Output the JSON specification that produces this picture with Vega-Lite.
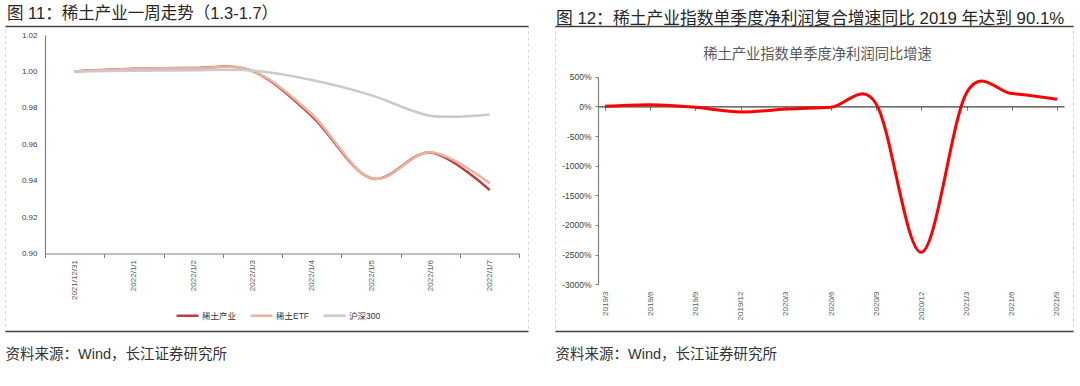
{
  "$schema": "https://vega.github.io/schema/vega-lite/v6.json",
  "padding": {"left": 0, "top": 5, "right": 0, "bottom": 0},
  "spacing": 25,
  "background": "white",
  "config": {
    "font": "Liberation Sans, Noto Sans CJK SC, sans-serif",
    "view": {"stroke": "#d4d4d4", "strokeDash": [3, 3], "strokeWidth": 1},
    "axis": {"grid": false, "labelFont": "Liberation Sans, Noto Sans CJK SC, sans-serif", "titleFont": "Liberation Sans, Noto Sans CJK SC, sans-serif"}
  },
  "hconcat": [
    {
      "width": 523,
      "height": 305,
      "title": {"text": "图 11：稀土产业一周走势（1.3-1.7）", "anchor": "start", "frame": "group", "fontSize": 16.5, "fontWeight": "normal", "color": "#262626", "offset": -9, "dx": 2, "baseline": "alphabetic"},
      "layer": [
        {
          "data": {"values": [
            {"d": "2021/12/31", "s": "稀土产业", "v": 1.0},
            {"d": "2022/1/1", "s": "稀土产业", "v": 1.0014},
            {"d": "2022/1/2", "s": "稀土产业", "v": 1.0019},
            {"d": "2022/1/3", "s": "稀土产业", "v": 1.0002},
            {"d": "2022/1/4", "s": "稀土产业", "v": 0.9755},
            {"d": "2022/1/5", "s": "稀土产业", "v": 0.9413},
            {"d": "2022/1/6", "s": "稀土产业", "v": 0.9554},
            {"d": "2022/1/7", "s": "稀土产业", "v": 0.9349},
            {"d": "2021/12/31", "s": "稀土ETF", "v": 1.0},
            {"d": "2022/1/1", "s": "稀土ETF", "v": 1.0013},
            {"d": "2022/1/2", "s": "稀土ETF", "v": 1.0018},
            {"d": "2022/1/3", "s": "稀土ETF", "v": 1.0003},
            {"d": "2022/1/4", "s": "稀土ETF", "v": 0.9765},
            {"d": "2022/1/5", "s": "稀土ETF", "v": 0.9413},
            {"d": "2022/1/6", "s": "稀土ETF", "v": 0.9556},
            {"d": "2022/1/7", "s": "稀土ETF", "v": 0.9386},
            {"d": "2021/12/31", "s": "沪深300", "v": 1.0},
            {"d": "2022/1/1", "s": "沪深300", "v": 1.0003},
            {"d": "2022/1/2", "s": "沪深300", "v": 1.0007},
            {"d": "2022/1/3", "s": "沪深300", "v": 1.0004},
            {"d": "2022/1/4", "s": "沪深300", "v": 0.9953},
            {"d": "2022/1/5", "s": "沪深300", "v": 0.987},
            {"d": "2022/1/6", "s": "沪深300", "v": 0.9757},
            {"d": "2022/1/7", "s": "沪深300", "v": 0.9764}
          ]},
          "mark": {"type": "line", "interpolate": "cardinal", "strokeWidth": 2.5},
          "encoding": {
            "x": {
              "field": "d", "type": "ordinal",
              "scale": {"type": "band", "domain": ["2021/12/31", "2022/1/1", "2022/1/2", "2022/1/3", "2022/1/4", "2022/1/5", "2022/1/6", "2022/1/7"], "range": [40, 514.3], "paddingInner": 0, "paddingOuter": 0},
              "axis": {"orient": "bottom", "offset": -77.5, "title": null, "tickBand": "extent", "tickSize": 4, "tickColor": "#808080", "domainColor": "#808080", "domainWidth": 1.2, "labelAngle": 270, "labelAlign": "right", "labelBaseline": "middle", "labelFontSize": 8, "labelColor": "#595959", "labelPadding": 2}
            },
            "y": {
              "field": "v", "type": "quantitative",
              "scale": {"domain": [0.9, 1.02], "range": [227.5, 9], "nice": false, "zero": false},
              "axis": {"orient": "left", "offset": -40, "title": null, "values": [0.9, 0.92, 0.94, 0.96, 0.98, 1.0, 1.02], "format": ".2f", "labelFontSize": 8, "labelColor": "#404040", "ticks": false, "labelPadding": 8, "domainColor": "#808080", "domainWidth": 1.2}
            },
            "color": {
              "field": "s", "type": "nominal",
              "scale": {"domain": ["稀土产业", "稀土ETF", "沪深300"], "range": ["#C23A3D", "#E7B49E", "#CACACA"]},
              "legend": {"title": null, "orient": "none", "legendX": 170, "legendY": 277, "direction": "horizontal", "symbolType": "stroke", "symbolSize": 480, "symbolStrokeWidth": 2.5, "labelFontSize": 8.5, "labelColor": "#333333", "columnPadding": 8, "labelOffset": 2}
            }
          }
        },
        {
          "data": {"values": [{}]},
          "mark": {"type": "text", "text": ""},
          "encoding": {
            "x": {"datum": 0, "type": "quantitative", "scale": {"domain": [0, 1], "nice": false, "zero": false}, "axis": {"orient": "top", "title": null, "labels": false, "ticks": false, "domainColor": "#404040", "domainWidth": 1.5}}
          }
        },
        {
          "data": {"values": [{}]},
          "mark": {"type": "text", "text": ""},
          "encoding": {
            "x": {"datum": 0, "type": "quantitative", "scale": {"domain": [0, 1], "nice": false, "zero": false}, "axis": {"orient": "bottom", "title": "资料来源：Wind，长江证券研究所", "titleAnchor": "start", "titleAlign": "left", "titleBaseline": "alphabetic", "titlePadding": 27.6, "titleFontSize": 14.5, "titleFontWeight": "normal", "titleColor": "#333333", "labels": false, "ticks": false, "domainColor": "#404040", "domainWidth": 1.5}}
          }
        }
      ],
      "resolve": {"scale": {"x": "independent"}, "axis": {"x": "independent"}}
    },
    {
      "width": 518,
      "height": 305,
      "title": {"text": "图 12：稀土产业指数单季度净利润复合增速同比 2019 年达到 90.1%", "anchor": "start", "frame": "group", "fontSize": 16.8, "fontWeight": "normal", "color": "#262626", "offset": -14.7, "dx": 1, "baseline": "alphabetic"},
      "layer": [
        {
          "data": {"name": "q"},
          "mark": {"type": "line", "interpolate": "cardinal", "strokeWidth": 3, "color": "#FF0000"},
          "encoding": {
            "x": {
              "field": "q", "type": "ordinal",
              "scale": {"type": "point", "domain": ["2019/3", "2019/6", "2019/9", "2019/12", "2020/3", "2020/6", "2020/9", "2020/12", "2021/3", "2021/6", "2021/9"], "range": [43, 509], "padding": 0.155},
              "axis": {"orient": "bottom", "offset": -224.6, "title": null, "labels": false, "tickSize": 4, "tickColor": "#808080", "domainColor": "#404040", "domainWidth": 1.2}
            },
            "y": {
              "field": "v", "type": "quantitative",
              "scale": {"domain": [-3000, 500], "range": [258.3, 50.7], "nice": false, "zero": false},
              "axis": {"orient": "left", "offset": -43, "title": null, "values": [500, 0, -500, -1000, -1500, -2000, -2500, -3000], "labelExpr": "datum.value + '%'", "labelFontSize": 8.5, "labelColor": "#404040", "tickSize": 3, "tickColor": "#808080", "labelPadding": 4, "domainColor": "#808080", "domainWidth": 1.2}
            }
          }
        },
        {
          "data": {"name": "q"},
          "mark": {"type": "text", "text": ""},
          "encoding": {
            "x": {
              "field": "q", "type": "ordinal",
              "scale": {"type": "point", "domain": ["2019/3", "2019/6", "2019/9", "2019/12", "2020/3", "2020/6", "2020/9", "2020/12", "2021/3", "2021/6", "2021/9"], "range": [43, 509], "padding": 0.155},
              "axis": {"orient": "bottom", "offset": -41, "title": null, "domain": false, "ticks": false, "labelAngle": 270, "labelAlign": "right", "labelBaseline": "middle", "labelFontSize": 8, "labelColor": "#595959", "labelPadding": 1}
            }
          }
        },
        {
          "data": {"values": [{}]},
          "mark": {"type": "text", "text": ""},
          "encoding": {
            "x": {"datum": 0, "type": "quantitative", "scale": {"domain": [0, 1], "nice": false, "zero": false}, "axis": {"orient": "top", "title": null, "labels": false, "ticks": false, "domainColor": "#404040", "domainWidth": 1.5}}
          }
        },
        {
          "data": {"values": [{}]},
          "mark": {"type": "text", "text": ""},
          "encoding": {
            "x": {"datum": 0, "type": "quantitative", "scale": {"domain": [0, 1], "nice": false, "zero": false}, "axis": {"orient": "top", "offset": -32, "title": "稀土产业指数单季度净利润同比增速", "titleBaseline": "alphabetic", "titlePadding": 0, "titleFontSize": 14.3, "titleFontWeight": "normal", "titleColor": "#595959", "titleX": 262, "labels": false, "ticks": false, "domain": false}}
          }
        },
        {
          "data": {"values": [{}]},
          "mark": {"type": "text", "text": ""},
          "encoding": {
            "x": {"datum": 0, "type": "quantitative", "scale": {"domain": [0, 1], "nice": false, "zero": false}, "axis": {"orient": "bottom", "title": "资料来源：Wind，长江证券研究所", "titleAnchor": "start", "titleAlign": "left", "titleBaseline": "alphabetic", "titlePadding": 27.6, "titleFontSize": 14.5, "titleFontWeight": "normal", "titleColor": "#333333", "labels": false, "ticks": false, "domainColor": "#404040", "domainWidth": 1.5}}
          }
        }
      ],
      "resolve": {"scale": {"x": "independent"}, "axis": {"x": "independent"}}
    }
  ],
  "datasets": {
    "q": [
      {"q": "2019/3", "v": 0},
      {"q": "2019/6", "v": 28},
      {"q": "2019/9", "v": -15},
      {"q": "2019/12", "v": -95},
      {"q": "2020/3", "v": -45},
      {"q": "2020/6", "v": -15},
      {"q": "2020/9", "v": 40},
      {"q": "2020/12", "v": -2460},
      {"q": "2021/3", "v": 230},
      {"q": "2021/6", "v": 215},
      {"q": "2021/9", "v": 120}
    ]
  }
}
